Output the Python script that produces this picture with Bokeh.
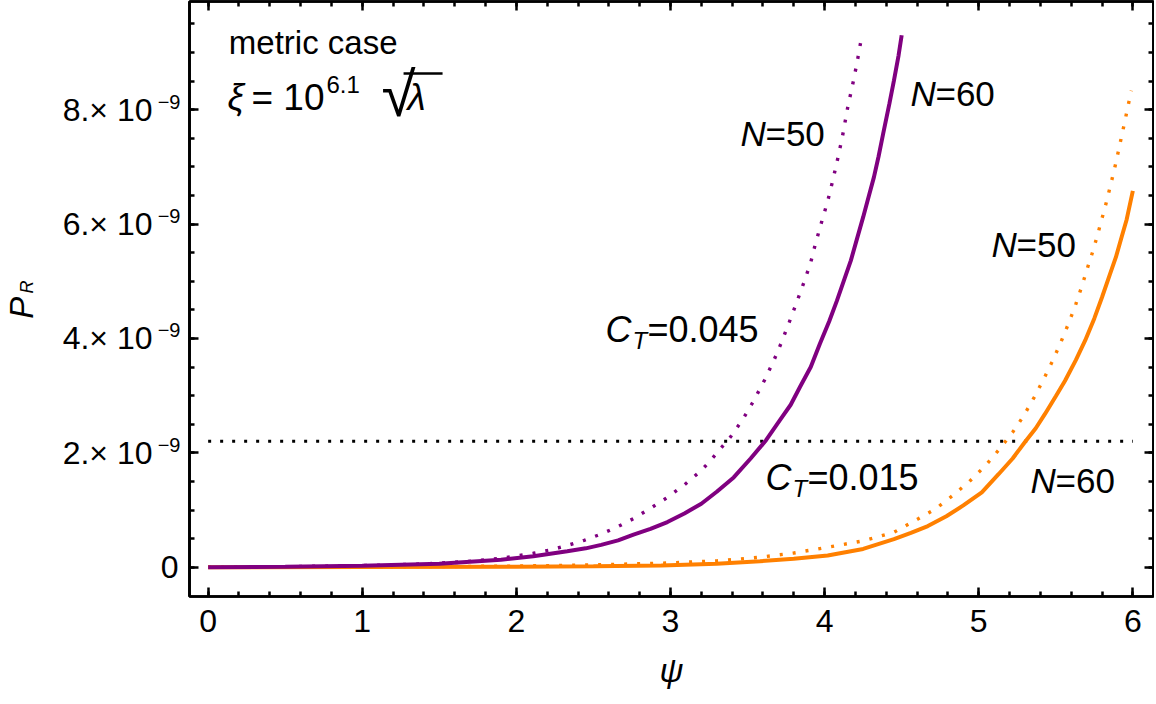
import math
import numpy as np
from bokeh.plotting import figure
from bokeh.models import Range1d, LinearAxis, FixedTicker, CustomJSTickFormatter
from bokeh.core.properties import value
from bokeh.embed import file_html
from bokeh.resources import INLINE

# ---------------- data (P_R in units of 1e-9) ----------------
psi_purple_N60 = [0.0, 0.5, 1.0, 1.5, 1.9, 2.11, 2.33, 2.45, 2.55, 2.66, 2.76, 2.87, 2.98, 3.09,
                  3.2, 3.3, 3.41, 3.52, 3.62, 3.71, 3.78, 3.84, 3.91, 3.97, 4.03, 4.08, 4.13,
                  4.17, 4.21, 4.25, 4.29, 4.32, 4.35, 4.38, 4.42, 4.45, 4.48, 4.5]
PR_purple_N60 = [0.0, 0.006, 0.025, 0.06, 0.13, 0.19, 0.28, 0.33, 0.39, 0.47, 0.57, 0.67, 0.79, 0.94,
                 1.11, 1.32, 1.57, 1.9, 2.22, 2.57, 2.84, 3.15, 3.5, 3.91, 4.3, 4.66, 5.05,
                 5.36, 5.74, 6.12, 6.52, 6.82, 7.18, 7.58, 8.1, 8.51, 8.95, 9.3]

psi_purple_N50 = [0.0, 0.5, 1.0, 1.25, 1.46, 1.68, 1.9, 2.11, 2.22, 2.33, 2.44, 2.55, 2.66, 2.76,
                  2.87, 2.98, 3.09, 3.2, 3.27, 3.33, 3.39, 3.47, 3.54, 3.61, 3.67, 3.72, 3.77,
                  3.82, 3.87, 3.91, 3.94, 3.98, 4.02, 4.05, 4.08, 4.115, 4.15, 4.19, 4.215, 4.24]
PR_purple_N50 = [0.0, 0.008, 0.03, 0.045, 0.065, 0.10, 0.157, 0.245, 0.30, 0.38, 0.47, 0.58, 0.71, 0.85,
                 1.03, 1.22, 1.44, 1.69, 1.9, 2.09, 2.28, 2.59, 2.91, 3.27, 3.61, 3.93, 4.28,
                 4.64, 5.01, 5.33, 5.65, 6.03, 6.40, 6.73, 7.08, 7.52, 8.04, 8.54, 8.89, 9.27]

psi_orange_N60 = [0.0, 1.0, 2.0, 2.5, 2.94, 3.3, 3.58, 3.8, 4.02, 4.25, 4.45, 4.56, 4.67, 4.79,
                  4.9, 5.02, 5.13, 5.22, 5.30, 5.37, 5.43, 5.50, 5.56, 5.63, 5.69, 5.75, 5.80,
                  5.85, 5.89, 5.93, 5.96, 6.0]
PR_orange_N60 = [0.0, 0.002, 0.008, 0.017, 0.03, 0.06, 0.105, 0.147, 0.205, 0.32, 0.49, 0.60, 0.72, 0.89,
                 1.08, 1.31, 1.63, 1.90, 2.19, 2.43, 2.68, 2.99, 3.26, 3.62, 3.96, 4.35, 4.72,
                 5.11, 5.42, 5.80, 6.08, 6.58]

psi_orange_N50 = [0.0, 1.0, 2.0, 2.5, 2.94, 3.3, 3.58, 3.8, 4.02, 4.25, 4.45, 4.61, 4.72, 4.83,
                  4.94, 5.045, 5.13, 5.22, 5.29, 5.36, 5.42, 5.48, 5.54, 5.59, 5.63, 5.67, 5.71,
                  5.74, 5.77, 5.80, 5.83, 5.86, 5.89, 5.91, 5.93, 5.95, 5.97, 5.99]
PR_orange_N50 = [0.0, 0.004, 0.02, 0.04, 0.07, 0.11, 0.175, 0.248, 0.35, 0.46, 0.61, 0.85, 1.02, 1.25,
                 1.50, 1.78, 2.05, 2.36, 2.64, 2.97, 3.28, 3.61, 3.98, 4.31, 4.60, 4.92, 5.27,
                 5.52, 5.80, 6.10, 6.40, 6.73, 7.07, 7.32, 7.57, 7.82, 8.08, 8.33]

psi_obs = [0.0, 6.0]
PR_obs = [2.2, 2.2]

x_major = [0, 1, 2, 3, 4, 5, 6]
x_minor = [round(0.2 * i, 1) for i in range(0, 31)]
y_major = [0, 2, 4, 6, 8]
y_minor = [round(0.5 * i, 1) for i in range(0, 20)]
y_mantissa = {2: "2.× 10", 4: "4.× 10", 6: "6.× 10", 8: "8.× 10"}
y_exponent = "−9"

PURPLE = "#800080"
ORANGE = "#FF8000"
FONT = "Liberation Sans"

p = figure(width=1154, height=702,
           x_range=Range1d(-0.121, 6.134), y_range=Range1d(-0.512, 9.89),
           output_backend="svg", toolbar_location=None,
           min_border_left=189, min_border_right=1, min_border_top=1, min_border_bottom=106)
p.xgrid.visible = False
p.ygrid.visible = False
p.outline_line_color = "black"
p.outline_line_width = 2.7
p.background_fill_color = "white"
p.border_fill_color = "white"


def frame_axis(ax):
    ax.axis_line_color = "black"
    ax.axis_line_width = 2.7
    ax.major_tick_in = 9
    ax.major_tick_out = 0
    ax.minor_tick_in = 5
    ax.minor_tick_out = 0
    ax.major_tick_line_width = 2.5
    ax.minor_tick_line_width = 2.5
    ax.major_tick_line_color = "black"
    ax.minor_tick_line_color = "black"
    ax.major_label_text_font = FONT
    ax.major_label_text_color = "black"


def hide_labels(ax):
    ax.major_label_text_font_size = "0px"
    ax.major_label_text_color = None
    ax.major_label_standoff = 0


def label_axis(ticks, formatter, size, standoff, style="normal", orient="horizontal", overrides=None):
    ax = LinearAxis(ticker=FixedTicker(ticks=ticks, minor_ticks=[]))
    if formatter is not None:
        ax.formatter = formatter
    if overrides is not None:
        ax.major_label_overrides = overrides
    ax.axis_line_color = None
    ax.major_tick_line_color = None
    ax.minor_tick_line_color = None
    ax.major_tick_in = 0
    ax.major_tick_out = 0
    ax.minor_tick_in = 0
    ax.minor_tick_out = 0
    ax.major_label_text_font = FONT
    ax.major_label_text_font_size = f"{size}px"
    ax.major_label_text_font_style = style
    ax.major_label_text_color = "black"
    ax.major_label_standoff = standoff
    ax.major_label_orientation = orient
    return ax


# bottom axis (psi)
p.xaxis.ticker = FixedTicker(ticks=x_major, minor_ticks=x_minor)
frame_axis(p.xaxis[0])
p.xaxis.major_label_text_font_size = "32px"
p.xaxis.major_label_standoff = 13
p.xaxis.axis_label = "ψ"
p.xaxis.axis_label_text_font = FONT
p.xaxis.axis_label_text_font_style = "italic"
p.xaxis.axis_label_text_font_size = "33px"
p.xaxis.axis_label_text_color = "black"
p.xaxis.axis_label_standoff = 17

# left axis: tick marks only; its labels come from stacked label axes
p.yaxis.ticker = FixedTicker(ticks=y_major, minor_ticks=y_minor)
frame_axis(p.yaxis[0])
hide_labels(p.yaxis[0])

ax_zero = label_axis([0], None, 32, 11, overrides={0: "0"})
ax_exp = label_axis([t + 0.14 for t in y_major[1:]],
                    CustomJSTickFormatter(code=f"return '{y_exponent}'"), 20, -23)
ax_man = label_axis(y_major[1:], None, 32, 2, overrides=y_mantissa)
ax_R = label_axis([4.90], CustomJSTickFormatter(code="return 'R'"), 18, 22, "italic", "parallel")
ax_P = label_axis([4.537], CustomJSTickFormatter(code="return 'P'"), 33, -26, "italic", "parallel")
for ax in (ax_zero, ax_exp, ax_man, ax_R, ax_P):
    p.add_layout(ax, "left")

# frame ticks on top and right
top = LinearAxis(ticker=FixedTicker(ticks=x_major, minor_ticks=x_minor))
frame_axis(top)
hide_labels(top)
p.add_layout(top, "above")
right = LinearAxis(ticker=FixedTicker(ticks=y_major, minor_ticks=y_minor))
frame_axis(right)
hide_labels(right)
p.add_layout(right, "right")

# ---------------- curves ----------------
p.line(psi_obs, PR_obs, line_color="black", line_width=3, line_dash="3 9")
p.line(psi_purple_N50, PR_purple_N50, line_color=PURPLE, line_width=3.4, line_dash="3 10")
p.line(psi_orange_N50, PR_orange_N50, line_color=ORANGE, line_width=3.4, line_dash="3 10")
p.line(psi_orange_N60, PR_orange_N60, line_color=ORANGE, line_width=4)
p.line(psi_purple_N60, PR_purple_N60, line_color=PURPLE, line_width=4)


# ---------------- text ----------------
def txt(x, y, s, size, style="normal", xoff=0, yoff=0, font=FONT):
    p.text(x=[x], y=[y], text=[s], text_font=value(font), text_font_size=value(f"{size}px"),
           text_font_style=style, text_align="left", text_baseline="alphabetic",
           text_color="black", x_offset=xoff, y_offset=yoff - round(0.35 * size))


txt(0.134, 8.958, "metric case", 33)
txt(0.125, 7.984, "ξ", 37, "italic")
txt(0.281, 7.984, "= 10", 37)
txt(0.768, 8.299, "6.1", 24)
txt(1.125, 7.879, "√", 62)
txt(1.294, 7.984, "λ", 37, "italic")
p.line([1.268, 1.521], [8.631, 8.631], line_color="black", line_width=2.5)


def nlabel(x, y, rest):
    txt(x, y, "N", 35, "italic")
    txt(x, y, rest, 35, xoff=25)


nlabel(3.454, 7.372, "=50")
nlabel(4.557, 8.072, "=60")
nlabel(5.083, 5.432, "=50")
nlabel(5.336, 1.311, "=60")


def ctlabel(x, y, rest):
    txt(x, y, "C", 36, "italic")
    txt(x, y, "T", 24, "italic", xoff=27, yoff=6)
    txt(x, y, rest, 36, xoff=42)


ctlabel(2.578, 3.928, "=0.045")
ctlabel(3.616, 1.341, "=0.015")

open("out.html", "w").write(file_html(p, INLINE))
